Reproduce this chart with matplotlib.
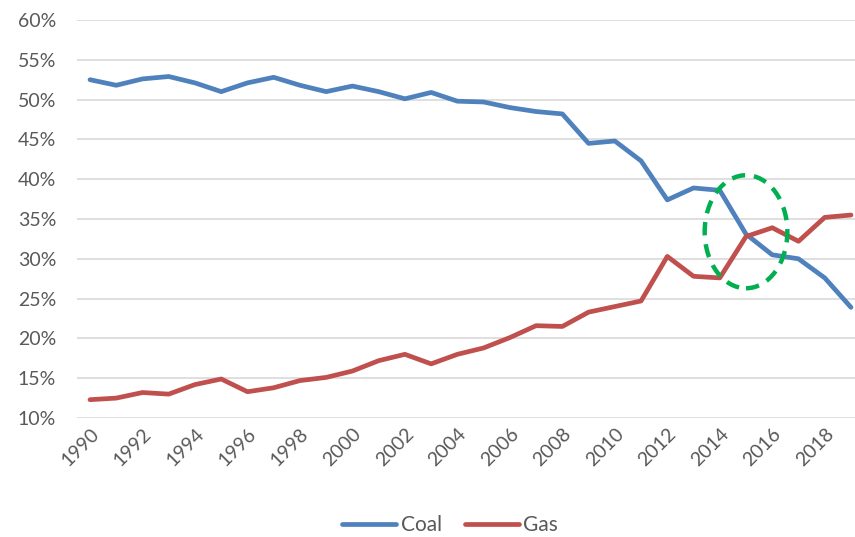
import numpy as np
import matplotlib.pyplot as plt
from matplotlib.patches import Ellipse

years = list(range(1990, 2020))
coal = [52.5, 51.8, 52.6, 52.9, 52.1, 51.0, 52.1, 52.8, 51.8, 51.0, 51.7, 51.0, 50.1, 50.9,
        49.8, 49.7, 49.0, 48.5, 48.2, 44.5, 44.8, 42.3, 37.4, 38.9, 38.6, 33.1, 30.5, 30.0,
        27.6, 23.9]
gas = [12.3, 12.5, 13.2, 13.0, 14.2, 14.9, 13.3, 13.8, 14.7, 15.1, 15.9, 17.2, 18.0, 16.8,
       18.0, 18.8, 20.1, 21.6, 21.5, 23.3, 24.0, 24.7, 30.3, 27.8, 27.6, 32.8, 33.9, 32.2,
       35.2, 35.5]

plt.rcParams['font.family'] = ['Lato', 'DejaVu Sans']

fig = plt.figure(figsize=(8.55, 5.37), dpi=100)
ax = fig.add_axes([76.9 / 855, 119 / 537, 787.2 / 855, 398 / 537])

x = np.arange(len(years))
ax.plot(x, coal, color='#4F81BD', lw=3.4, solid_capstyle='round', label='Coal')
ax.plot(x, gas, color='#C0504D', lw=3.4, solid_capstyle='round', label='Gas')

# highlight where gas overtakes coal
ax.add_patch(Ellipse((25, 33.4), 3.15, 14.2, fill=False, edgecolor='#00B050',
                     lw=3.2, ls=(0, (3, 2)), zorder=5))

ax.set_xlim(-0.5, len(years) - 0.5)
ax.set_ylim(10, 60)
ax.set_yticks(np.arange(10, 61, 5))
ax.set_yticklabels([f'{v}%' for v in range(10, 61, 5)])
ax.set_xticks(x[::2])
ax.set_xticklabels([str(y) for y in years[::2]], rotation=45, ha='right',
                   rotation_mode='anchor')
ax.grid(axis='y', color='#D9D9D9', lw=1.2)
ax.set_axisbelow(True)
for s in ax.spines.values():
    s.set_visible(False)
ax.tick_params(length=0, labelsize=14, colors='#595959')
ax.tick_params(axis='y', pad=15)
ax.tick_params(axis='x', pad=5)

leg = ax.legend(loc='center', bbox_to_anchor=(450 / 787.2 - 76.9 / 787.2, -0.27),
                ncol=2, frameon=False, fontsize=15, handlelength=2.6,
                columnspacing=1.1, handletextpad=0.2)
for t in leg.get_texts():
    t.set_color('#595959')

fig.savefig('out.png', dpi=100)
